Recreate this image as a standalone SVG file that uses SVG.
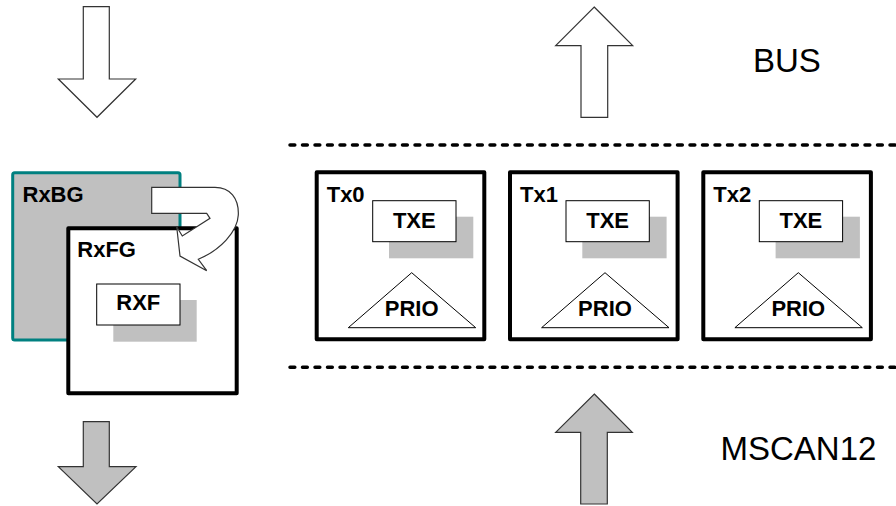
<svg xmlns="http://www.w3.org/2000/svg" width="896" height="506" viewBox="0 0 896 506">
  <defs>
    <style>
      .lbl { font-family: "Liberation Sans", Arial, sans-serif; font-weight: bold; font-size: 22px; fill: #000; }
      .big { font-family: "Liberation Sans", Arial, sans-serif; font-size: 33px; fill: #000; }
      .frame { fill: #fff; stroke: #000; stroke-width: 4; stroke-linejoin: round; }
      .shadow { fill: #c0c0c0; stroke: none; }
      .flag { fill: #fff; stroke: #000; stroke-width: 1; }
      .tri { fill: #fff; stroke: #000; stroke-width: 1; stroke-linejoin: miter; }
      .arrow-w { fill: #fff; stroke: #333; stroke-width: 1.2; stroke-linejoin: miter; }
      .arrow-g { fill: #c0c0c0; stroke: #333; stroke-width: 1.2; stroke-linejoin: miter; }
      .rule { stroke: #000; stroke-width: 3.5; stroke-linecap: round; stroke-dasharray: 4.8 7.7; fill: none; }
    </style>
  </defs>

  <rect width="896" height="506" fill="#fff"/>

  <!-- interface layer labels -->
  <text class="big" x="753" y="71.5">BUS</text>
  <text class="big" x="720.5" y="460">MSCAN12</text>

  <!-- dashed boundaries of the transmit section -->
  <g id="boundaries">
    <line class="rule" x1="290" y1="145" x2="896" y2="145"/>
    <line class="rule" x1="290" y1="367.3" x2="896" y2="367.3"/>
  </g>

  <!-- receive side -->
  <g id="rxbg">
    <rect x="12.7" y="172.7" width="167.3" height="167.3" rx="2" fill="#c0c0c0" stroke="#008080" stroke-width="3"/>
    <text class="lbl" x="22.5" y="201.5">RxBG</text>
  </g>
  <g id="rxfg">
    <rect class="frame" x="68.3" y="228.3" width="168.4" height="165"/>
    <text class="lbl" x="77.3" y="256.5">RxFG</text>
    <rect class="shadow" x="113.3" y="300" width="83.4" height="41.7"/>
    <rect class="flag" x="96.7" y="284" width="83.3" height="41"/>
    <text class="lbl" x="138.3" y="310" text-anchor="middle">RXF</text>
  </g>

  <!-- transmit buffers -->
  <g id="tx0" transform="translate(316.7,0)">
    <rect class="frame" x="0" y="172.3" width="167.6" height="167"/>
    <text class="lbl" x="10" y="201.5">Tx0</text>
    <rect class="shadow" x="72.3" y="216.7" width="84.3" height="41.6"/>
    <rect class="flag" x="56" y="200.7" width="83.3" height="41"/>
    <text class="lbl" x="97.6" y="227.7" text-anchor="middle">TXE</text>
    <polygon class="tri" points="31.6,327.7 95,272.7 159,327.7"/>
    <text class="lbl" x="95" y="316" text-anchor="middle">PRIO</text>
  </g>
  <g id="tx1" transform="translate(510,0)">
    <rect class="frame" x="0" y="172.3" width="167.6" height="167"/>
    <text class="lbl" x="10" y="201.5">Tx1</text>
    <rect class="shadow" x="72.3" y="216.7" width="84.3" height="41.6"/>
    <rect class="flag" x="56" y="200.7" width="83.3" height="41"/>
    <text class="lbl" x="97.6" y="227.7" text-anchor="middle">TXE</text>
    <polygon class="tri" points="31.6,327.7 95,272.7 159,327.7"/>
    <text class="lbl" x="95" y="316" text-anchor="middle">PRIO</text>
  </g>
  <g id="tx2" transform="translate(703.3,0)">
    <rect class="frame" x="0" y="172.3" width="167.6" height="167"/>
    <text class="lbl" x="10" y="201.5">Tx2</text>
    <rect class="shadow" x="72.3" y="216.7" width="84.3" height="41.6"/>
    <rect class="flag" x="56" y="200.7" width="83.3" height="41"/>
    <text class="lbl" x="97.6" y="227.7" text-anchor="middle">TXE</text>
    <polygon class="tri" points="31.6,327.7 95,272.7 159,327.7"/>
    <text class="lbl" x="95" y="316" text-anchor="middle">PRIO</text>
  </g>

  <!-- block arrows -->
  <g id="connectors">
    <!-- incoming from bus to receive side -->
    <polygon class="arrow-w" points="83.3,6.7 109.3,6.7 109.3,79 135.7,79 97,117.3 58.3,79 83.3,79"/>
    <!-- outgoing from transmit buffers to bus -->
    <polygon class="arrow-w" points="594.2,7 632.7,45.7 607.7,45.7 607.7,117.3 581,117.3 581,45.7 555.7,45.7"/>
    <!-- receive side to CPU -->
    <polygon class="arrow-g" points="83.3,421.7 109.3,421.7 109.3,466.7 136,466.7 97,504 58.3,466.7 83.3,466.7"/>
    <!-- CPU to transmit buffers -->
    <polygon class="arrow-g" points="594.3,394 632.3,432.3 607.3,432.3 607.3,504 580.7,504 580.7,432.3 555.7,432.3"/>
    <!-- background to foreground buffer swap -->
    <path class="arrow-w" d="M151.7,187.3 L215,187.3 C230,187.3 239,198 238.3,215 C237.5,232 220,250 198.3,259.3 L206.7,270.7 L180,256 L176.7,226.7 L182.3,236 L210,218.3 L206.7,213.3 L151.7,213.3 Z"/>
  </g>
</svg>
